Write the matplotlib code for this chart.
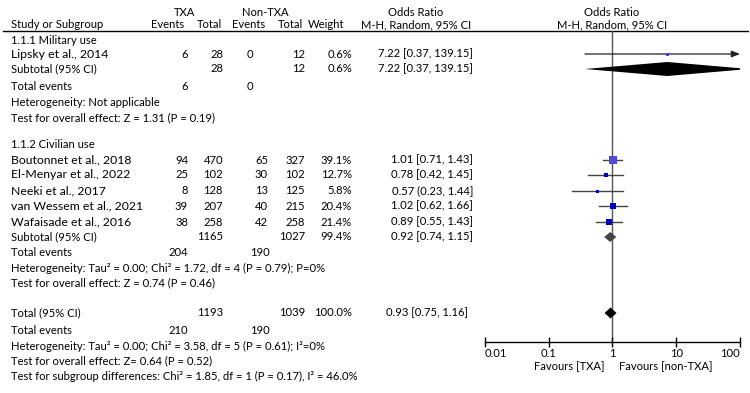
import matplotlib
matplotlib.use('Agg')
import matplotlib.pyplot as plt
import numpy as np

plt.rcParams['font.family'] = ['Lato', 'DejaVu Sans']

# study level data
names = ['Lipsky et al., 2014', 'Boutonnet et al., 2018', 'El-Menyar et al., 2022',
         'Neeki et al., 2017', 'van Wessem et al., 2021', 'Wafaisade et al., 2016']
txa_events = [6, 94, 25, 8, 39, 38]
txa_total = [28, 470, 102, 128, 207, 258]
ctl_events = [0, 65, 30, 13, 40, 42]
ctl_total = [12, 327, 102, 125, 215, 258]
weights = [0.6, 39.1, 12.7, 5.8, 20.4, 21.4]
odds = [7.22, 1.01, 0.78, 0.57, 1.02, 0.89]
ci_lo = [0.37, 0.71, 0.42, 0.23, 0.62, 0.55]
ci_hi = [139.15, 1.43, 1.45, 1.44, 1.66, 1.43]
or_labels = ['7.22 [0.37, 139.15]', '1.01 [0.71, 1.43]', '0.78 [0.42, 1.45]',
             '0.57 (0.23, 1.44]', '1.02 [0.62, 1.66]', '0.89 [0.55, 1.43]']

# pooled estimates: military subtotal, civilian subtotal, overall
pool_txa_total = [28, 1165, 1193]
pool_ctl_total = [12, 1027, 1039]
pool_txa_events = [6, 204, 210]
pool_ctl_events = [0, 190, 190]
pool_weight = ['0.6%', '99.4%', '100.0%']
pool_or = [7.22, 0.92, 0.93]
pool_lo = [0.37, 0.74, 0.75]
pool_hi = [139.15, 1.15, 1.16]
pool_labels = ['7.22 [0.37, 139.15]', '0.92 [0.74, 1.15]', '0.93 [0.75, 1.16]']

ticks = [0.01, 0.1, 1, 10, 100]
tick_labels = ['0.01', '0.1', '1', '10', '100']

# row y positions (pixels from top)
study_y = [54, 160, 175, 191, 206, 222]
pool_y = [69, 237, 313]
events_y = [86, 252, 330]

fig = plt.figure(figsize=(7.5, 3.93), dpi=100)
bg = fig.add_axes([0, 0, 1, 1])
bg.set_xlim(0, 750)
bg.set_ylim(393, 0)
bg.axis('off')

fs = 8.1
fs_name = 8.8
X_EV1, X_TOT1, X_EV2, X_TOT2, X_W, X_OR = 188, 223, 268, 305, 352, 473

# header
bg.text(185, 12, 'TXA', ha='center', va='center', fontsize=fs)
bg.text(265, 12, 'Non-TXA', ha='center', va='center', fontsize=fs)
bg.text(416, 12, 'Odds Ratio', ha='center', va='center', fontsize=fs)
bg.text(612, 12, 'Odds Ratio', ha='center', va='center', fontsize=fs)
bg.text(11, 25, 'Study or Subgroup', ha='left', va='center', fontsize=fs)
for x, t in [(168, 'Events'), (209, 'Total'), (249, 'Events'), (290, 'Total'), (326, 'Weight'),
             (416, 'M-H, Random, 95% CI'), (612, 'M-H, Random, 95% CI')]:
    bg.text(x, 25, t, ha='center', va='center', fontsize=fs)
bg.plot([3, 748], [31, 31], color='black', lw=1)

bg.text(11, 40, '1.1.1 Military use', va='center', fontsize=fs)
bg.text(11, 145, '1.1.2 Civilian use', va='center', fontsize=fs)

for i, n in enumerate(names):
    y = study_y[i]
    bg.text(11, y, n, va='center', fontsize=fs_name)
    bg.text(X_EV1, y, str(txa_events[i]), ha='right', va='center', fontsize=fs)
    bg.text(X_TOT1, y, str(txa_total[i]), ha='right', va='center', fontsize=fs)
    bg.text(253 if ctl_events[i] == 0 else X_EV2, y, str(ctl_events[i]), ha='right', va='center', fontsize=fs)
    bg.text(X_TOT2, y, str(ctl_total[i]), ha='right', va='center', fontsize=fs)
    bg.text(X_W, y, f'{weights[i]}%', ha='right', va='center', fontsize=fs)
    bg.text(X_OR, y, or_labels[i], ha='right', va='center', fontsize=fs)

pool_names = ['Subtotal (95% CI)', 'Subtotal (95% CI)', 'Total (95% CI)']
for i in range(3):
    y = pool_y[i]
    bg.text(11, y, pool_names[i], va='center', fontsize=fs)
    bg.text(X_TOT1, y, str(pool_txa_total[i]), ha='right', va='center', fontsize=fs)
    bg.text(X_TOT2, y, str(pool_ctl_total[i]), ha='right', va='center', fontsize=fs)
    bg.text(X_W, y, pool_weight[i], ha='right', va='center', fontsize=fs)
    bg.text(X_OR - (5 if i == 2 else 0), y, pool_labels[i], ha='right', va='center', fontsize=fs)
    ye = events_y[i]
    bg.text(11, ye, 'Total events', va='center', fontsize=fs)
    bg.text(X_EV1, ye, str(pool_txa_events[i]), ha='right', va='center', fontsize=fs)
    bg.text(253 if pool_ctl_events[i] == 0 else 270, ye, str(pool_ctl_events[i]),
            ha='right', va='center', fontsize=fs)

notes = [
    (102, 'Heterogeneity: Not applicable'),
    (118, 'Test for overall effect: Z = 1.31 (P = 0.19)'),
    (268, 'Heterogeneity: Tau² = 0.00; Chi² = 1.72, df = 4 (P = 0.79); P=0%'),
    (283, 'Test for overall effect: Z = 0.74 (P = 0.46)'),
    (346, 'Heterogeneity: Tau² = 0.00; Chi² = 3.58, df = 5 (P = 0.61); I²=0%'),
    (361, 'Test for overall effect: Z= 0.64 (P = 0.52)'),
    (376, 'Test for subgroup differences: Chi² = 1.85, df = 1 (P = 0.17), I² = 46.0%'),
]
for y, t in notes:
    bg.text(11, y, t, va='center', fontsize=fs)

bg.text(604, 367, 'Favours [TXA]', ha='right', va='center', fontsize=fs)
bg.text(619, 367, 'Favours [non-TXA]', ha='left', va='center', fontsize=fs)

# forest panel
top, bottom = 31, 342
ax = fig.add_axes([485 / 750, (393 - bottom) / 393, 255 / 750, (bottom - top) / 393])
ax.set_xscale('log')
ax.set_xlim(0.01, 100)
ax.set_ylim(bottom, top)
ax.patch.set_alpha(0)
for s in ['top', 'left', 'right']:
    ax.spines[s].set_visible(False)
ax.spines['bottom'].set_linewidth(1)
ax.set_yticks([])
ax.set_xticks(ticks)
ax.set_xticklabels(tick_labels, fontsize=fs)
ax.minorticks_off()
ax.tick_params(axis='x', direction='inout', length=7, width=1, pad=1)
lbls = ax.get_xticklabels()
lbls[0].set_ha('left')
lbls[-1].set_ha('right')
ax.axvline(1, color='#555555', lw=1, zorder=1)

for i in range(len(names)):
    y = study_y[i]
    hi = min(ci_hi[i], 100)
    if ci_hi[i] > 100:
        ax.annotate('', xy=(hi, y), xytext=(ci_lo[i], y), zorder=2,
                    arrowprops=dict(arrowstyle='-|>,head_length=0.5,head_width=0.2',
                                    color='#222222', lw=0.9, shrinkA=0, shrinkB=0))
    else:
        ax.plot([ci_lo[i], hi], [y, y], color='#444444', lw=1, zorder=2)
    side = max(1.2 * np.sqrt(weights[i]), 3.0)
    col = '#4b4bdb' if weights[i] > 30 else ('#4a3ee0' if weights[i] < 1 else '#0000bb')
    ax.plot([odds[i]], [y], marker='s', ms=side * 0.72, color=col, mec=col, mew=0, zorder=5)

diamond_h = [7, 5, 5.5]
diamond_c = ['black', '#444444', 'black']
for i in range(3):
    y = pool_y[i]
    h = diamond_h[i]
    ax.fill([pool_lo[i], pool_or[i], pool_hi[i], pool_or[i]], [y, y - h, y, y + h],
            color=diamond_c[i], lw=0, zorder=4, clip_on=True)

fig.savefig('out.png', dpi=100)
